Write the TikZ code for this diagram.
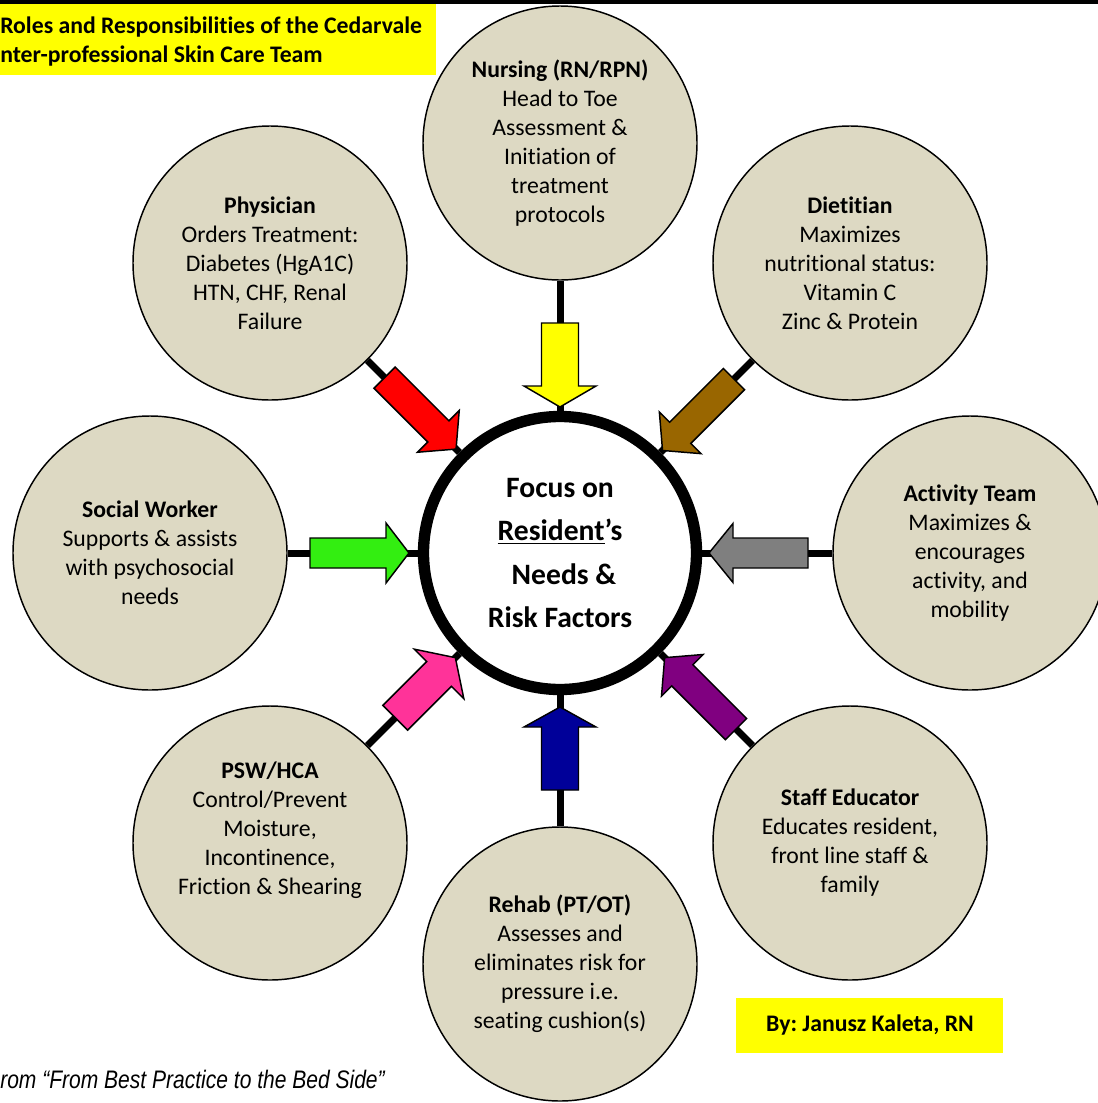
\documentclass[tikz,border=0pt]{standalone}
\usepackage{fontspec}
\setmainfont[Ligatures=NoCommon]{Carlito}
\newfontfamily\narrowfont[FakeStretch=0.83]{Liberation Sans}
\frenchspacing
\definecolor{satfill}{HTML}{DDD9C3}
\definecolor{arYellow}{HTML}{FFFF00}
\definecolor{arRed}{HTML}{FF0000}
\definecolor{arBrown}{HTML}{996600}
\definecolor{arGray}{HTML}{7F7F7F}
\definecolor{arGreen}{HTML}{33EE11}
\definecolor{arPink}{HTML}{FF3399}
\definecolor{arNavy}{HTML}{000099}
\definecolor{arPurple}{HTML}{800080}
\tikzset{
  sat/.style={circle, draw=black, line width=1.1pt, fill=satfill, minimum size=205.5pt,
    inner sep=0pt, align=center, font=\fontsize{17.8}{21.75}\selectfont},
  hub/.style={circle, draw=black, line width=8.5pt, fill=white, minimum size=204.75pt,
    inner sep=0pt, align=center, font=\bfseries\fontsize{22.2}{32.5}\selectfont},
  link/.style={line width=5.25pt, draw=black},
  blockarrow/.style={draw=black, line width=1.1pt, line join=miter},
  boldtxt/.style={inner sep=0pt, font=\bfseries\fontsize{17.8}{21.75}\selectfont},
  hlbox/.style={fill=arYellow, inner sep=0pt},
}
% angle, colour, tip radius, back radius, shaft half width, head half width, head length
\newcommand\blockarr[7]{%
  \begin{scope}[shift={(hub.center)}, rotate=#1]
    \filldraw[blockarrow, fill=#2] (#4,-#5) -- ({#3+#7},-#5) -- ({#3+#7},-#6) -- (#3,0)
      -- ({#3+#7},#6) -- ({#3+#7},#5) -- (#4,#5) -- cycle;
  \end{scope}}
\begin{document}
\begin{tikzpicture}[x=0.75pt,y=-0.75pt]
\useasboundingbox (0,0) rectangle (1098,1103);
\clip (0,0) rectangle (1098,1103);
\fill[white] (0,0) rectangle (1098,1103);
\fill[black] (0,0) rectangle (1098,3.5);

% title
\node[hlbox, anchor=north west, minimum width=327pt, minimum height=53.25pt] (titlebox) at (0,4) {};
\node[boldtxt, anchor=base west] (title1) at (0,33) {Roles and Responsibilities of the Cedarvale};
\node[boldtxt, anchor=base west] (title2) at (0,62) {nter-professional Skin Care Team};

% hub
\node[hub] (hub) at (560,553) {Focus on\\ \underline{Resident}’s\\ \hspace*{6pt}Needs \&\\ Risk Factors};

% satellites
\node[sat] (nurse) at (560,143) {\textbf{Nursing (RN/RPN)}\\ Head to Toe\\ Assessment \&\\ Initiation of\\ treatment\\ protocols};
\node[sat] (phys) at (270,263) {\textbf{Physician}\\ Orders Treatment:\\ Diabetes (HgA1C)\\ HTN, CHF, Renal\\ Failure};
\node[sat] (diet) at (850,263) {\textbf{Dietitian}\\ Maximizes\\ nutritional status:\\ Vitamin C\\ Zinc \& Protein};
\node[sat] (social) at (150,553) {\textbf{Social Worker}\\ Supports \& assists\\ with psychosocial\\ needs};
\node[sat] (activity) at (970,553) {\textbf{Activity Team}\\ Maximizes \&\\ encourages\\ activity, and\\ mobility};
\node[sat] (psw) at (270,843) {\textbf{PSW/HCA}\\ Control/Prevent\\ Moisture,\\ Incontinence,\\ Friction \& Shearing\\ ~};
\node[sat] (staff) at (850,843) {\textbf{Staff Educator}\\ Educates resident,\\ front line staff \&\\ family};
\node[sat] (rehab) at (560,964) {\textbf{Rehab (PT/OT)}\\ Assesses and\\ eliminates risk for\\ pressure i.e.\\ seating cushion(s)};

% connectors
\foreach \s in {nurse,phys,diet,social,activity,psw,staff,rehab}
  \draw[link] (\s) -- (hub);

% block arrows
\blockarr{135}{arRed}{147}{248}{15}{29.5}{25}
\blockarr{90}{arYellow}{146}{230}{18.5}{36}{21}
\blockarr{45}{arBrown}{145}{246}{15}{29.5}{25}
\blockarr{0}{arGray}{149}{248}{15}{29.5}{24}
\blockarr{-45}{arPurple}{148}{249}{15}{29.5}{25}
\blockarr{-90}{arNavy}{154}{237}{18.5}{36}{20}
\blockarr{-135}{arPink}{148}{233}{17.5}{35}{23}
\blockarr{180}{arGreen}{151}{250}{15}{30}{23}

% byline
\node[hlbox, minimum width=200.25pt, minimum height=41.25pt] (bybox) at (869.5,1025.5) {};
\node[boldtxt, anchor=base] (byline) at (870,1031) {By: Janusz Kaleta, RN};

% source
\node[inner sep=0pt, anchor=base west, font=\narrowfont\itshape\fontsize{19}{23}\selectfont] (source) at (0,1088) {rom “From Best Practice to the Bed Side”};
\end{tikzpicture}
\end{document}
